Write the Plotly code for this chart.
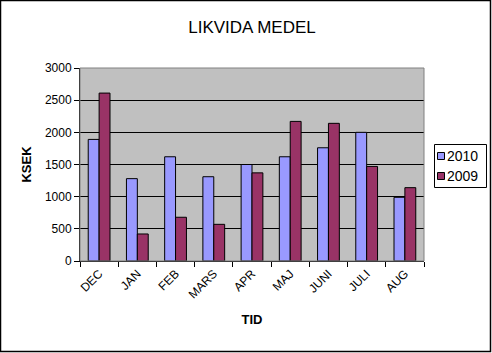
import plotly.graph_objects as go

months = ["DEC", "JAN", "FEB", "MARS", "APR", "MAJ", "JUNI", "JULI", "AUG"]
v2010 = [1890, 1280, 1620, 1310, 1500, 1620, 1760, 2000, 990]
v2009 = [2610, 420, 680, 570, 1370, 2170, 2140, 1470, 1140]
series = [("2010", v2010, "#9999FF"), ("2009", v2009, "#993366")]

W, H = 492, 353
L, R, T, B = 80, 68, 68, 92
pw, ph = W - L - R, H - T - B

def px(x):  # pixel x -> paper
    return (x - L) / pw

def py(y):  # pixel y (from top) -> paper
    return (H - B - y) / ph

fig = go.Figure()
for name, vals, col in series:
    fig.add_trace(go.Bar(x=months, y=vals, name=name, showlegend=False,
                         marker=dict(color=col, line=dict(color="black", width=1))))

font = "Liberation Sans, Arial, sans-serif"
shapes = [
    dict(type="rect", xref="paper", yref="paper",
         x0=px(0.5), x1=px(W - 1.5), y0=py(H - 1.5), y1=py(0.5),
         line=dict(color="black", width=1.5)),
    dict(type="rect", xref="paper", yref="paper", x0=0, x1=1, y0=0, y1=1,
         line=dict(color="#808080", width=1)),
    dict(type="rect", xref="paper", yref="paper",
         x0=px(434.5), x1=px(486.5), y0=py(187.5), y1=py(144.5),
         line=dict(color="black", width=1), fillcolor="white"),
]
annotations = []
for i, (name, vals, col) in enumerate(series):
    cy = 156 + 20 * i
    shapes.append(dict(type="rect", xref="paper", yref="paper",
                       x0=px(437.5), x1=px(444.5), y0=py(cy + 3.5), y1=py(cy - 3.5),
                       line=dict(color="black", width=1), fillcolor=col))
    annotations.append(dict(text=name, xref="paper", yref="paper", x=px(445), y=py(cy),
                            xanchor="left", yanchor="middle", showarrow=False,
                            font=dict(size=14, family=font, color="black")))

fig.update_layout(
    width=W, height=H,
    margin=dict(l=L, r=R, t=T, b=B),
    paper_bgcolor="white", plot_bgcolor="#C0C0C0",
    barmode="group", bargap=0.43, bargroupgap=0,
    font=dict(family=font, color="black", size=12),
    title=dict(text="LIKVIDA MEDEL", x=0.5, xref="paper", xanchor="center",
               y=1 - 27 / H, yanchor="middle", font=dict(size=17, family=font)),
    showlegend=False,
    xaxis=dict(title=dict(text="<b>TID</b>", font=dict(size=13), standoff=14),
               tickangle=-45, ticks="outside", tickson="boundaries", ticklen=5,
               tickcolor="black", showline=True, linecolor="black", linewidth=1,
               showgrid=False, tickfont=dict(size=12)),
    yaxis=dict(title=dict(text="<b>KSEK</b>", font=dict(size=13), standoff=10),
               range=[0, 3000], dtick=500, ticks="outside", ticklen=5, tickcolor="black",
               showline=True, linecolor="black", linewidth=1,
               showgrid=True, gridcolor="black", gridwidth=1, zeroline=False,
               tickfont=dict(size=12)),
    shapes=shapes,
    annotations=annotations,
)
fig.write_html("out.html")
